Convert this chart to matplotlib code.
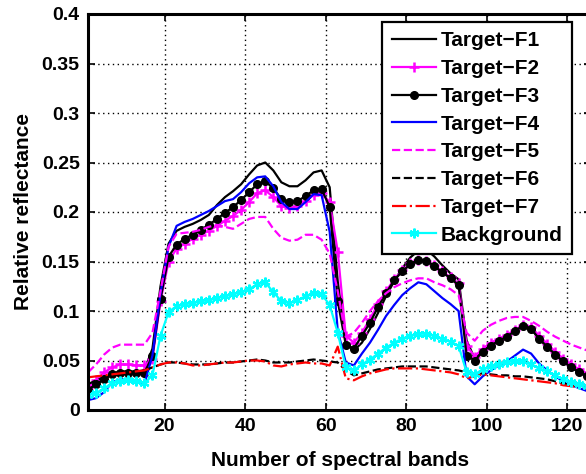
"""Relative reflectance of target fabrics and background across spectral bands"""

import matplotlib
matplotlib.use('Agg')
from matplotlib import pyplot as plt

plt.rcParams['font.family'] = ['Liberation Sans', 'DejaVu Sans']
plt.rcParams['font.weight'] = 'bold'

# band numbers (every second band)
bands = list(range(1, 126, 2))

f1 = [0.021, 0.026, 0.031, 0.037, 0.039, 0.039, 0.039, 0.040, 0.062, 0.125,
      0.168, 0.181, 0.185, 0.188, 0.192, 0.197, 0.207, 0.215, 0.221, 0.228,
      0.238, 0.247, 0.250, 0.242, 0.230, 0.226, 0.226, 0.232, 0.240, 0.242,
      0.225, 0.130, 0.068, 0.060, 0.068, 0.082, 0.098, 0.115, 0.130, 0.143,
      0.154, 0.161, 0.162, 0.155, 0.146, 0.138, 0.132, 0.070, 0.052, 0.060,
      0.066, 0.070, 0.075, 0.080, 0.085, 0.082, 0.072, 0.063, 0.056, 0.049,
      0.043, 0.038, 0.034]
f2 = [0.022, 0.030, 0.038, 0.043, 0.046, 0.046, 0.045, 0.045, 0.052, 0.110,
      0.150, 0.163, 0.168, 0.173, 0.177, 0.181, 0.186, 0.191, 0.196, 0.202,
      0.210, 0.219, 0.222, 0.215, 0.206, 0.204, 0.206, 0.211, 0.217, 0.219,
      0.210, 0.160, 0.075, 0.068, 0.078, 0.092, 0.107, 0.120, 0.132, 0.141,
      0.148, 0.152, 0.151, 0.146, 0.140, 0.134, 0.128, 0.065, 0.054, 0.062,
      0.068, 0.072, 0.076, 0.081, 0.086, 0.084, 0.075, 0.067, 0.059, 0.052,
      0.046, 0.041, 0.037]
f3 = [0.020, 0.026, 0.031, 0.036, 0.037, 0.037, 0.037, 0.037, 0.055, 0.112,
      0.155, 0.167, 0.173, 0.177, 0.182, 0.187, 0.193, 0.199, 0.205, 0.212,
      0.220, 0.228, 0.231, 0.224, 0.213, 0.210, 0.211, 0.216, 0.222, 0.223,
      0.205, 0.110, 0.066, 0.062, 0.075, 0.088, 0.104, 0.118, 0.131, 0.140,
      0.147, 0.152, 0.151, 0.145, 0.139, 0.133, 0.126, 0.055, 0.050, 0.059,
      0.065, 0.070, 0.074, 0.080, 0.085, 0.082, 0.072, 0.064, 0.056, 0.049,
      0.043, 0.038, 0.034]
f4 = [0.010, 0.012, 0.018, 0.028, 0.031, 0.031, 0.030, 0.026, 0.055, 0.118,
      0.165, 0.186, 0.190, 0.193, 0.197, 0.201, 0.206, 0.211, 0.213, 0.220,
      0.229, 0.235, 0.236, 0.226, 0.210, 0.203, 0.203, 0.210, 0.218, 0.217,
      0.180, 0.080, 0.048, 0.045, 0.057, 0.068, 0.081, 0.095, 0.106, 0.116,
      0.123, 0.129, 0.127, 0.120, 0.113, 0.107, 0.100, 0.034, 0.026, 0.034,
      0.040, 0.045, 0.049, 0.055, 0.061, 0.057, 0.047, 0.040, 0.034, 0.029,
      0.025, 0.022, 0.019]
f5 = [0.038, 0.046, 0.056, 0.063, 0.066, 0.066, 0.066, 0.066, 0.078, 0.120,
      0.165, 0.178, 0.179, 0.180, 0.182, 0.185, 0.187, 0.185, 0.183, 0.188,
      0.193, 0.195, 0.195, 0.183, 0.174, 0.171, 0.172, 0.177, 0.177, 0.172,
      0.158, 0.120, 0.074, 0.078, 0.088, 0.100, 0.110, 0.118, 0.124, 0.128,
      0.131, 0.133, 0.133, 0.129, 0.126, 0.122, 0.116, 0.078, 0.070, 0.080,
      0.086, 0.090, 0.093, 0.094, 0.094, 0.090, 0.085, 0.079, 0.074, 0.070,
      0.066, 0.063, 0.060]
f6 = [0.026, 0.030, 0.033, 0.035, 0.036, 0.037, 0.038, 0.040, 0.043, 0.046,
      0.048, 0.048, 0.047, 0.046, 0.046, 0.046, 0.047, 0.048, 0.048, 0.049,
      0.050, 0.051, 0.050, 0.048, 0.048, 0.048, 0.049, 0.050, 0.051, 0.050,
      0.049, 0.048, 0.040, 0.035, 0.037, 0.039, 0.041, 0.042, 0.043, 0.044,
      0.044, 0.044, 0.044, 0.043, 0.042, 0.041, 0.040, 0.038, 0.036, 0.037,
      0.036, 0.035, 0.035, 0.034, 0.034, 0.033, 0.032, 0.031, 0.029, 0.027,
      0.025, 0.024, 0.022]
f7 = [0.033, 0.034, 0.035, 0.036, 0.037, 0.038, 0.039, 0.040, 0.043, 0.046,
      0.048, 0.048, 0.047, 0.045, 0.045, 0.046, 0.047, 0.048, 0.048, 0.049,
      0.050, 0.050, 0.049, 0.045, 0.044, 0.046, 0.047, 0.048, 0.047, 0.047,
      0.045, 0.064, 0.032, 0.030, 0.034, 0.037, 0.039, 0.041, 0.042, 0.042,
      0.042, 0.042, 0.041, 0.040, 0.039, 0.038, 0.036, 0.032, 0.034, 0.036,
      0.035, 0.034, 0.033, 0.032, 0.031, 0.030, 0.029, 0.028, 0.027, 0.025,
      0.024, 0.023, 0.022]
background = [0.015, 0.017, 0.022, 0.027, 0.029, 0.030, 0.029, 0.027, 0.035, 0.075,
              0.099, 0.105, 0.107, 0.108, 0.110, 0.111, 0.113, 0.115, 0.117, 0.119,
              0.122, 0.127, 0.129, 0.119, 0.110, 0.108, 0.111, 0.115, 0.118, 0.117,
              0.106, 0.078, 0.043, 0.040, 0.046, 0.051, 0.057, 0.063, 0.068, 0.072,
              0.075, 0.077, 0.077, 0.075, 0.072, 0.069, 0.065, 0.038, 0.036, 0.041,
              0.044, 0.046, 0.048, 0.050, 0.049, 0.046, 0.042, 0.039, 0.035, 0.031,
              0.028, 0.026, 0.024]

labels = ['Target\u2212F1', 'Target\u2212F2', 'Target\u2212F3', 'Target\u2212F4',
          'Target\u2212F5', 'Target\u2212F6', 'Target\u2212F7', 'Background']
xticks = [20, 40, 60, 80, 100, 120]
yticks = [0, 0.05, 0.1, 0.15, 0.2, 0.25, 0.3, 0.35, 0.4]
yticklabels = ['0', '0.05', '0.1', '0.15', '0.2', '0.25', '0.3', '0.35', '0.4']

fig = plt.figure(figsize=(5.86, 4.74), dpi=100)
ax = fig.add_axes([88 / 586, 1 - 410 / 474, (591.5 - 88) / 586, 396 / 474])

lw = 1.6
ax.plot(bands, f1, color='k', lw=lw, label=labels[0])
ax.plot(bands, f2, color='magenta', lw=lw, marker='+', ms=7, mew=1.8, label=labels[1])
ax.plot(bands, f3, color='k', lw=lw, marker='o', ms=5.5, label=labels[2])
ax.plot(bands, f4, color='blue', lw=lw, label=labels[3])
ax.plot(bands, f5, color='magenta', lw=lw, ls='--', label=labels[4])
ax.plot(bands, f6, color='k', lw=lw, ls='--', label=labels[5])
ax.plot(bands, f7, color='red', lw=lw, ls='-.', label=labels[6])
ax.plot(bands, background, color='cyan', lw=lw, marker=(6, 2, 0), ms=7, mew=1.6,
        label=labels[7])

ax.set_xlim(1, 126)
ax.set_ylim(0, 0.4)
ax.set_xticks(xticks)
ax.set_yticks(yticks)
ax.set_yticklabels(yticklabels)
ax.tick_params(direction='in', top=True, right=True, length=5, width=1.2,
               labelsize=14, pad=6)
for s in ax.spines.values():
    s.set_linewidth(2.2)
ax.grid(True, color='k', ls=(0, (1, 2.5)), lw=1.0)

ax.set_xlabel('Number of spectral bands', fontsize=15, fontweight='bold', labelpad=11)
ax.set_ylabel('Relative reflectance', fontsize=15, fontweight='bold', labelpad=6)

leg = ax.legend(loc='upper right', bbox_to_anchor=(572 / 586, 1 - 22 / 474),
                bbox_transform=fig.transFigure, borderaxespad=0, fancybox=False,
                framealpha=1, edgecolor='k', fontsize=15, numpoints=1,
                handlelength=2.1, handletextpad=0.25, labelspacing=0.42, borderpad=0.45)
leg.get_frame().set_linewidth(1.6)

fig.savefig('out.png', dpi=100)
